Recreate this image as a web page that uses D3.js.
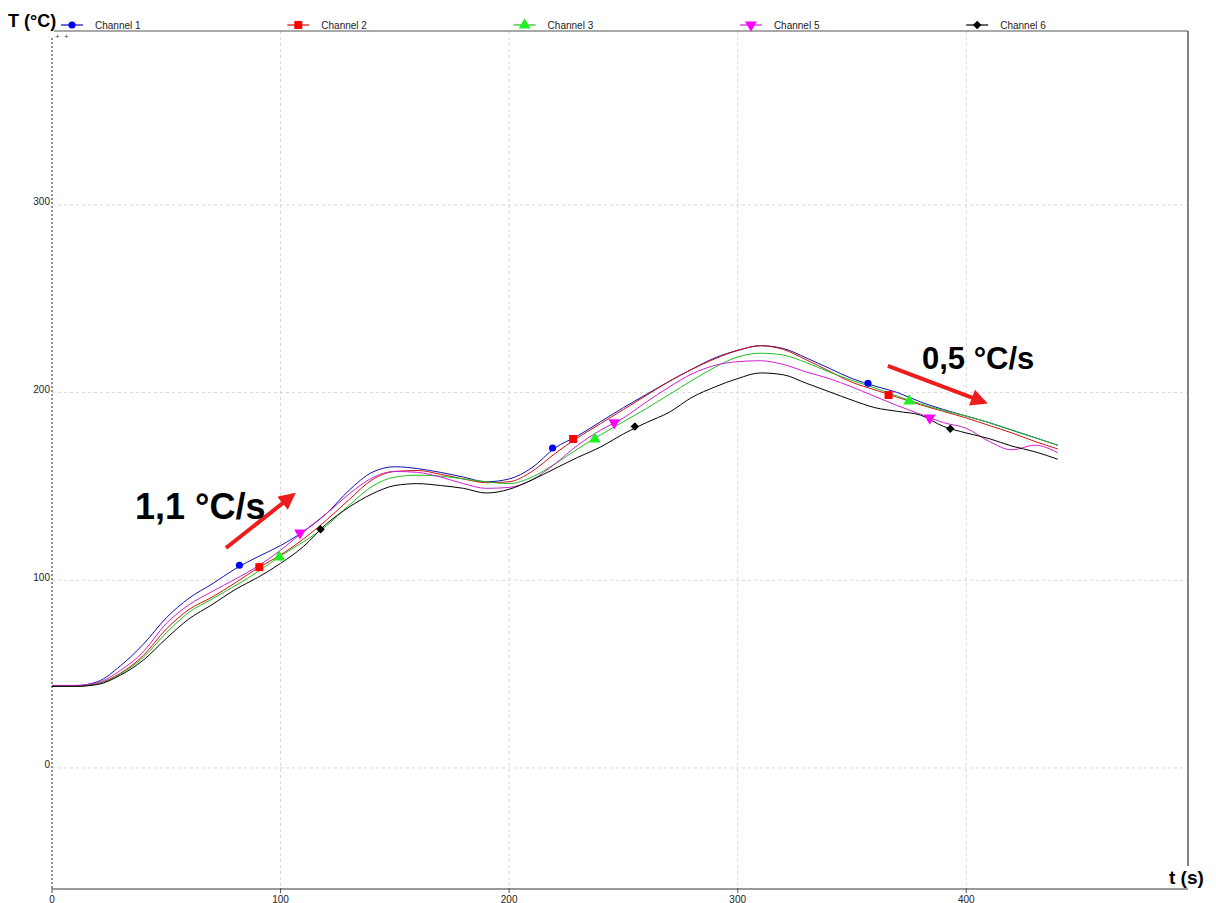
<!DOCTYPE html>
<html>
<head>
<meta charset="utf-8">
<script src="https://cdn.jsdelivr.net/npm/d3@7"></script>
<style>
body { margin: 0; background: #fff; }
svg { display: block; font-family: "Liberation Sans", Arial, sans-serif; }
</style>
</head>
<body>
<svg width="1216" height="903"></svg>
<script>
// time in s, temperatures in °C
var times = [0, 10, 20, 30, 40, 50, 60, 70, 80, 90, 100, 110, 120, 130, 140, 150, 160, 170, 180, 190, 200, 210,
    220, 230, 240, 250, 260, 270, 280, 290, 300, 310, 320, 330, 340, 350, 360, 370, 380, 390, 400, 410, 420, 430, 440];

var channel1 = [43.8, 43.8, 46, 54.5, 66, 80, 90.5, 98, 106, 112.5, 118.5, 126, 135.5, 148, 157.5, 160.5, 159.5, 157.5, 155, 152.5, 154, 160,
    170.5, 177, 184.5, 192, 199, 206, 212.5, 218.5, 222.5, 225, 223.5, 218.5, 213, 207.5, 203.5, 200, 195, 191, 187.5, 184, 180, 176, 172];
var channel2 = [43.5, 43.5, 45, 50.5, 60, 74, 84.5, 91, 98.5, 106.5, 113.5, 122, 132, 143, 153.5, 158, 158.5, 156.5, 154, 152, 152.5, 158,
    167.5, 176, 183.5, 191, 198.5, 206, 212.5, 218, 222.5, 225, 223, 217.5, 211.5, 205.5, 201.5, 197.5, 193.5, 190, 186.5, 182.5, 178.5, 174, 170];
var channel3 = [43.5, 43.5, 44.8, 50, 59, 72, 83, 90, 97, 104.5, 113, 120.5, 129, 140, 150, 155, 156, 155.5, 154, 152.5, 151.5, 155,
    162, 170, 177.5, 184.5, 191.5, 199, 206.5, 213.5, 219, 221, 220, 216, 211, 206.5, 202.5, 198, 194, 190.5, 187.5, 184, 180, 176, 172];
var channel5 = [44, 44, 45.5, 52, 62, 77, 87, 94, 100.5, 107.5, 116, 126, 135.5, 146, 154.5, 158, 157.5, 155, 151.5, 149, 149.5, 153.5,
    162, 172, 180, 186.5, 195, 203, 210, 214.5, 216.5, 217, 215, 211, 207.5, 203, 198, 193, 188.5, 184, 181, 174, 169.5, 172, 168];
var channel6 = [43.5, 43.5, 44.5, 49.5, 57.5, 69, 79.5, 87, 95, 101.5, 109, 118, 130, 139, 146, 150.5, 151.5, 150.5, 149, 146.5, 148.5, 153.5,
    159.5, 165.5, 171, 178, 184, 189.5, 197.5, 203, 207.5, 210.5, 209.5, 205, 200.5, 196, 192, 190, 188, 182, 178.5, 175.5, 171.5, 168.5, 164.5];

var channelNames = ["Channel 1", "Channel 2", "Channel 3", "Channel 5", "Channel 6"];
var seriesValues = [channel1, channel2, channel3, channel5, channel6];

// marker points drawn on each curve
var markerTimes = [[82, 219, 357], [90.7, 228, 366], [99.4, 237.5, 375], [108.5, 246, 384], [117.5, 255, 393]];
var markerTemps = [[108, 170.5, 205], [107, 175.3, 198.7], [112.4, 175.3, 195.5], [125.3, 184, 186.5], [127.2, 182, 180.8]];

var xTicks = [0, 100, 200, 300, 400];
var yTicks = [0, 100, 200, 300];

var lineColors = ["#1010b0", "#d01010", "#20c020", "#d020d0", "#000000"];
var markColors = ["#0000f0", "#ff0000", "#22ee22", "#ff00ff", "#000000"];
var symbols = [
    {type: d3.symbolCircle, size: 40, rot: 0},
    {type: d3.symbolSquare, size: 64, rot: 0},
    {type: d3.symbolTriangle, size: 60, rot: 0},
    {type: d3.symbolTriangle, size: 60, rot: 180},
    {type: d3.symbolSquare, size: 36, rot: 45}
];

var svg = d3.select("svg"),
    plotLeft = 52, plotRight = 1188, plotTop = 31, plotBottom = 889;

var x = d3.scaleLinear().domain([0, 497]).range([plotLeft, plotRight]);
var y = d3.scaleLinear().domain([-64.5, 392.7]).range([plotBottom, plotTop]);

svg.append("rect").attr("width", 1216).attr("height", 903).attr("fill", "#fff");

// grid
svg.append("g").selectAll("line").data(xTicks.slice(1)).enter().append("line")
    .attr("x1", function(d) { return x(d); }).attr("x2", function(d) { return x(d); })
    .attr("y1", plotTop).attr("y2", plotBottom)
    .attr("stroke", "#d6d6d6").attr("stroke-dasharray", "3,3");
svg.append("g").selectAll("line").data(yTicks).enter().append("line")
    .attr("x1", plotLeft).attr("x2", plotRight)
    .attr("y1", function(d) { return y(d); }).attr("y2", function(d) { return y(d); })
    .attr("stroke", "#d6d6d6").attr("stroke-dasharray", "3,3");

// frame
svg.append("line").attr("x1", plotLeft + 2).attr("x2", plotRight).attr("y1", plotTop).attr("y2", plotTop)
    .attr("stroke", "#555").attr("stroke-width", 1.2);
svg.append("line").attr("x1", plotRight).attr("x2", plotRight).attr("y1", plotTop).attr("y2", 866)
    .attr("stroke", "#333").attr("stroke-width", 1.2);
svg.append("line").attr("x1", plotLeft).attr("x2", plotLeft).attr("y1", 38).attr("y2", plotBottom)
    .attr("stroke", "#777").attr("stroke-width", 1.6).attr("stroke-dasharray", "2,2");
svg.append("line").attr("x1", plotLeft).attr("x2", plotRight).attr("y1", plotBottom).attr("y2", plotBottom)
    .attr("stroke", "#777").attr("stroke-width", 1.4);

// x ticks and labels
var xt = svg.append("g").selectAll("g").data(xTicks).enter().append("g")
    .attr("transform", function(d) { return "translate(" + x(d) + "," + plotBottom + ")"; });
xt.append("line").attr("y1", -1).attr("y2", 4).attr("stroke", "#555");
xt.append("text").attr("y", 13.5).attr("text-anchor", "middle")
    .attr("font-size", 10).attr("fill", "#222").text(function(d) { return d; });

// y labels
svg.append("g").selectAll("text").data(yTicks).enter().append("text")
    .attr("x", plotLeft - 2).attr("y", function(d) { return y(d) + 0.5; })
    .attr("text-anchor", "end").attr("font-size", 10).attr("fill", "#222")
    .text(function(d) { return d; });

svg.append("text").attr("x", 55).attr("y", 39).attr("font-size", 8).attr("fill", "#444").text("+");
svg.append("text").attr("x", 64).attr("y", 39).attr("font-size", 8).attr("fill", "#444").text("+");

// axis titles
svg.append("text").attr("x", 8).attr("y", 27).attr("font-size", 18).attr("font-weight", "bold")
    .text("T (°C)");
svg.append("text").attr("x", 1169).attr("y", 884).attr("font-size", 19).attr("font-weight", "bold")
    .text("t (s)");

// curves
var line = d3.line()
    .x(function(d, i) { return x(times[i]); })
    .y(function(d) { return y(d); })
    .curve(d3.curveMonotoneX);

svg.append("g").selectAll("path").data(seriesValues).enter().append("path")
    .attr("d", function(d) { return line(d); })
    .attr("fill", "none")
    .attr("stroke", function(d, i) { return lineColors[i]; })
    .attr("stroke-width", 1);

function symbolPath(i) {
    return d3.symbol().type(symbols[i].type).size(symbols[i].size)();
}

// markers on curves
seriesValues.forEach(function(s, i) {
    svg.append("g").selectAll("path").data(markerTimes[i]).enter().append("path")
        .attr("d", symbolPath(i))
        .attr("transform", function(t, j) {
            return "translate(" + x(t) + "," + y(markerTemps[i][j]) + ") rotate(" + symbols[i].rot + ")";
        })
        .attr("fill", markColors[i]);
});

// legend
var legend = svg.append("g").selectAll("g").data(channelNames).enter().append("g")
    .attr("transform", function(d, i) { return "translate(" + (72 + i * 226.3) + ",25)"; });
legend.append("line").attr("x1", -11).attr("x2", 11)
    .attr("stroke", function(d, i) { return lineColors[i]; }).attr("stroke-width", 1.2);
legend.append("path").attr("d", function(d, i) { return symbolPath(i); })
    .attr("transform", function(d, i) { return "rotate(" + symbols[i].rot + ")"; })
    .attr("fill", function(d, i) { return markColors[i]; });
legend.append("text").attr("x", 23).attr("y", 3.5).attr("font-size", 10).attr("fill", "#222")
    .text(function(d) { return d; });

// rate annotations
svg.append("defs").append("marker")
    .attr("id", "head").attr("viewBox", "0 0 10 10").attr("refX", 8).attr("refY", 5)
    .attr("markerWidth", 4.4).attr("markerHeight", 4.2).attr("orient", "auto")
  .append("path").attr("d", "M0,0L10,5L0,10z").attr("fill", "#ee1c1c");

svg.append("line")
    .attr("x1", x(76.1)).attr("y1", y(117.2)).attr("x2", x(105.5)).attr("y2", y(145.5))
    .attr("stroke", "#ee1c1c").attr("stroke-width", 4).attr("marker-end", "url(#head)");
svg.append("line")
    .attr("x1", x(365.7)).attr("y1", y(214.2)).attr("x2", x(408)).attr("y2", y(194.8))
    .attr("stroke", "#ee1c1c").attr("stroke-width", 4).attr("marker-end", "url(#head)");

svg.append("text").attr("x", x(36.3)).attr("y", y(132.5))
    .attr("font-size", 36).attr("font-weight", "bold").text("1,1 °C/s");
svg.append("text").attr("x", x(380.6)).attr("y", y(212.4))
    .attr("font-size", 31).attr("font-weight", "bold").text("0,5 °C/s");
</script>
</body>
</html>
